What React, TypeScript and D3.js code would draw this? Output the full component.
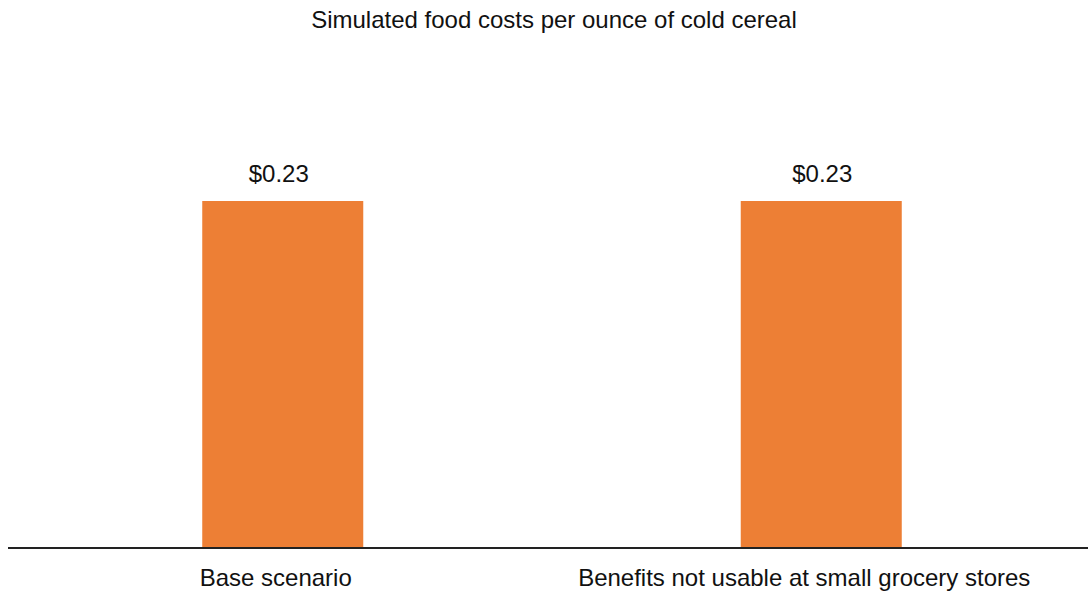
import React from "react";
import * as d3 from "d3";

const categories: string[] = ["Base scenario", "Benefits not usable at small grocery stores"];
const costs: number[] = [0.23, 0.23];
const title = "Simulated food costs per ounce of cold cereal";

const WIDTH = 1088;
const HEIGHT = 597;
const FONT = "'Liberation Sans', Arial, Helvetica, sans-serif";
// small horizontal nudges for the category and value labels
const CATEGORY_NUDGE = [-7, -17];
const VALUE_NUDGE = [-4, 1];

export default function App() {
  const x = d3
    .scaleBand<string>()
    .domain(categories)
    .range([12, 1092])
    .paddingInner(0.701)
    .paddingOuter(0.3533);
  const y = d3.scaleLinear().domain([0, 0.23]).range([547, 201]);
  const fmt = d3.format("$.2f");

  return (
    <svg
      width={WIDTH}
      height={HEIGHT}
      style={{ position: "absolute", left: 0, top: 0, background: "#fff" }}
    >
      <text x={554} y={28} textAnchor="middle" fontFamily={FONT} fontSize={24} fill="#111">
        {title}
      </text>
      {categories.map((c, i) => {
        const cx = (x(c) ?? 0) + x.bandwidth() / 2;
        return (
          <g key={c}>
            <rect
              x={x(c)}
              y={y(costs[i])}
              width={x.bandwidth()}
              height={y(0) - y(costs[i])}
              fill="#ED7F35"
            />
            <text
              x={cx + VALUE_NUDGE[i]}
              y={y(costs[i]) - 19}
              textAnchor="middle"
              fontFamily={FONT}
              fontSize={24}
              fill="#111"
            >
              {fmt(costs[i])}
            </text>
            <text
              x={cx + CATEGORY_NUDGE[i]}
              y={586}
              textAnchor="middle"
              fontFamily={FONT}
              fontSize={24}
              fill="#111"
            >
              {c}
            </text>
          </g>
        );
      })}
      <line x1={8} x2={WIDTH} y1={y(0) + 1} y2={y(0) + 1} stroke="#222" strokeWidth={2} />
    </svg>
  );
}
